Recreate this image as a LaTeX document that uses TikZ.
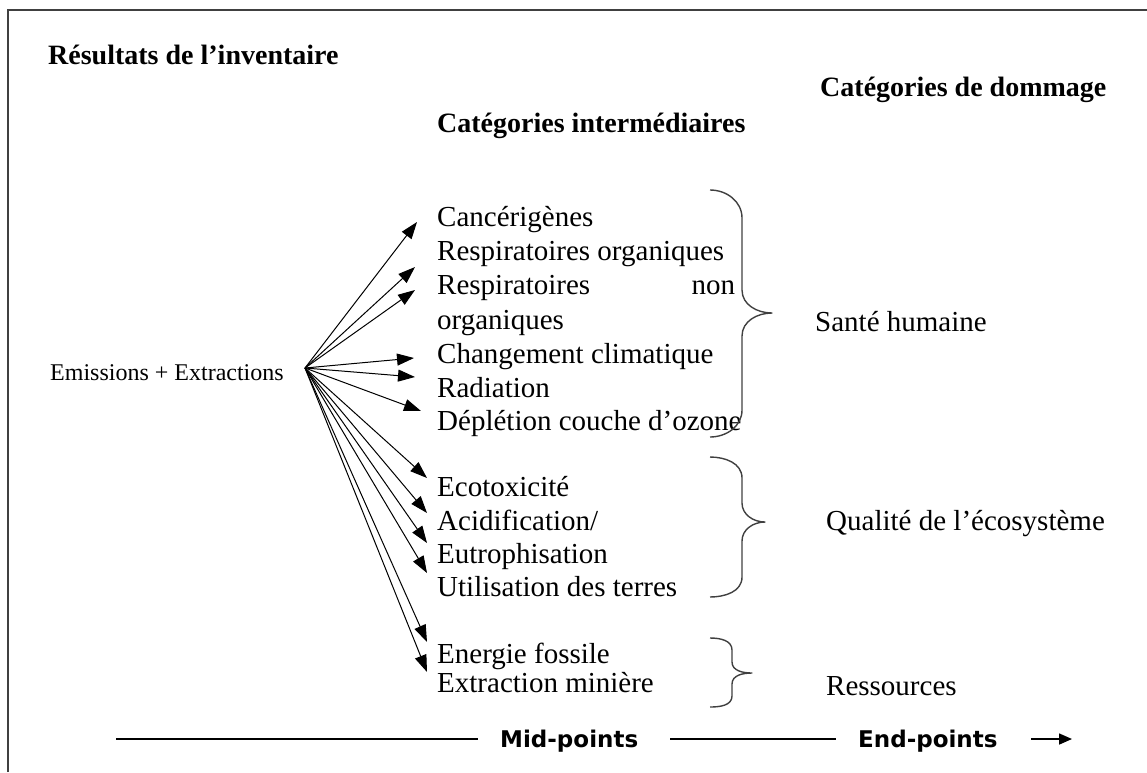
\documentclass[tikz,border=0pt]{standalone}
\usepackage{fontspec}
\setmainfont{Liberation Serif}
\newfontfamily\botfont{DejaVu Sans}
\usetikzlibrary{arrows.meta}
\tikzset{
  item/.style={anchor=base west, inner sep=0pt, font=\fontsize{29}{34}\selectfont},
  head/.style={anchor=base west, inner sep=0pt, font=\fontsize{28}{34}\selectfont\bfseries},
  bot/.style={anchor=base west, inner sep=0pt, font=\botfont\fontsize{23}{26}\selectfont\bfseries},
  arr/.style={line width=1pt, -{Triangle[length=17pt,width=12pt]}},
  brace/.style={line width=1.4pt, draw=black!75, line join=round},
  frame/.style={line width=2pt, draw=black!75},
  rule/.style={line width=1.1pt}
}
\begin{document}
\begin{tikzpicture}[x=1pt,y=-1pt]
\useasboundingbox (0,0) rectangle (1147,772);
% frame (top and left only)
\coordinate (fl) at (8,772);
\coordinate (fc) at (8,10);
\coordinate (fr) at (1147,10);
\draw[frame] (fl) -- (fc) -- (fr);

% headings
\node[head] (res) at (48,64) {Résultats de l’inventaire};
\node[head] (dom) at (820,96) {Catégories de dommage};
\node[head] (int) at (437,132) {Catégories intermédiaires};

% source
\node[item, font=\fontsize{24}{28}\selectfont] (src) at (50,380) {Emissions + Extractions};
\coordinate (hub) at (305,368);

% mid-point items
\node[item] (c1) at (437,226) {Cancérigènes};
\node[item] (c2) at (437,260) {Respiratoires organiques};
\node[item] (c3) at (437,294) {\hbox to 298pt{Respiratoires\hfill non}};
\node[item] (c3b) at (437,329) {organiques};
\node[item] (c4) at (437,363) {Changement climatique};
\node[item] (c5) at (437,397) {Radiation};
\node[item] (c6) at (437,430) {Déplétion couche d’ozone};
\node[item] (e1) at (437,496) {Ecotoxicité};
\node[item] (e2) at (437,530) {Acidification/};
\node[item] (e3) at (437,563) {Eutrophisation};
\node[item] (e4) at (437,596) {Utilisation des terres};
\node[item] (r1) at (437,663) {Energie fossile};
\node[item] (r2) at (437,692) {Extraction minière};

% arrow tips
\coordinate (t1) at (417,222);
\coordinate (t2) at (415,267);
\coordinate (t3) at (415,290);
\coordinate (t4) at (414,358);
\coordinate (t5) at (415,377);
\coordinate (t6) at (421,411);
\coordinate (t7) at (427,478);
\coordinate (t8) at (427,513);
\coordinate (t9) at (427,543);
\coordinate (t10) at (427,573);
\coordinate (t11) at (427,642);
\coordinate (t12) at (427,672);
\foreach \t in {t1,t2,t3,t4,t5,t6,t7,t8,t9,t10,t11,t12}
  \draw[arr] (hub) -- (\t);

% braces
\draw[brace] (710,190) to[out=0,in=90] (742,218) -- (742,290) to[out=-90,in=180] (772,313)
             to[out=180,in=90] (742,336) -- (742,410) to[out=-90,in=0] (710,437);
\draw[brace] (710,457) to[out=0,in=90] (742,478) -- (742,503) to[out=-90,in=180] (765,522)
             to[out=180,in=90] (742,541) -- (742,577) to[out=-90,in=0] (710,597);
\draw[brace] (710,638) to[out=0,in=90] (732,650) -- (732,662) to[out=-90,in=180] (752,673)
             to[out=180,in=90] (732,684) -- (732,696) to[out=-90,in=0] (710,707);

% end-point categories
\node[item] (sh) at (815,331) {Santé humaine};
\node[item] (qe) at (826,530) {Qualité de l’écosystème};
\node[item] (rs) at (826,695) {Ressources};

% bottom axis
\coordinate (a0) at (116,739);
\coordinate (a1) at (478,739);
\node[bot] (mid) at (500,747) {Mid-points};
\coordinate (a2) at (670,739);
\coordinate (a3) at (836,739);
\node[bot] (end) at (858,747) {End-points};
\coordinate (a4) at (1031,739);
\coordinate (a5) at (1072,739);
\draw[rule] (a0) -- (a1);
\draw[rule] (a2) -- (a3);
\draw[line width=1.6pt, -{Triangle[length=13pt,width=11pt]}] (a4) -- (a5);
\end{tikzpicture}
\end{document}
